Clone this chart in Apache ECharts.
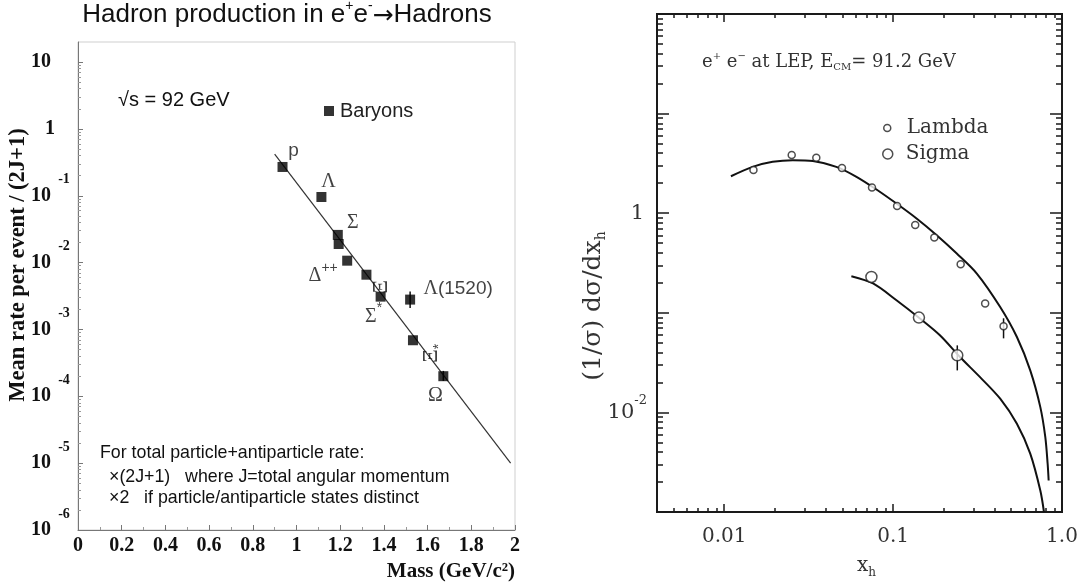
<!DOCTYPE html>
<html>
<head>
<meta charset="utf-8">
<title>Hadron production in e+e- to Hadrons</title>
<script src="https://cdn.jsdelivr.net/npm/echarts@6.0.0/dist/echarts.min.js"></script>
<style>
html,body{margin:0;padding:0;background:#fff;}
#chart{width:1081px;height:586px;}
</style>
</head>
<body>
<div id="chart"></div>
<script>
// ---------------- Left panel: baryon rates at sqrt(s) = 92 GeV ----------------
const baryonNames = ['p', 'Λ', 'Σ', 'Σ', 'Δ++', 'Ξ', 'Σ*', 'Λ(1520)', 'Ξ*', 'Ω'];
const baryonMass  = [0.936, 1.114, 1.189, 1.193, 1.232, 1.320, 1.385, 1.520, 1.533, 1.672];
const baryonRate  = [0.27, 0.096, 0.026, 0.019, 0.0107, 0.0066, 0.0031, 0.0028, 0.00069, 0.00020];
const baryonErrMass = [1.520, 1.672];
const baryonErrLow  = [0.0021, 0.00017];
const baryonErrHigh = [0.0037, 0.00024];
const fitMass = [0.90, 1.98];
const fitRate = [0.42, 1.0e-5];
const rateTickValues = [1e-6, 1e-5, 1e-4, 1e-3, 1e-2, 1e-1, 1, 10];

// ---------------- Right panel: Lambda / Sigma spectra at LEP ----------------
const lambdaX = [0.0149, 0.0251, 0.0351, 0.0498, 0.0750, 0.1056, 0.1352, 0.1754, 0.2512, 0.3508, 0.4508];
const lambdaY = [2.71, 3.83, 3.60, 2.85, 1.81, 1.18, 0.763, 0.570, 0.307, 0.1237, 0.0731];
const sigmaX  = [0.0744, 0.1422, 0.2399];
const sigmaY  = [0.229, 0.0895, 0.0374];
const lambdaFitX = [0.01096, 0.01472, 0.01936, 0.02547, 0.0335, 0.0461, 0.0607, 0.0797, 0.1047, 0.1377,
                    0.1812, 0.2382, 0.3131, 0.4306, 0.5408, 0.6486, 0.7441, 0.7965, 0.8222, 0.8337];
const lambdaFitY = [2.35, 2.92, 3.28, 3.41, 3.35, 2.92, 2.32, 1.73, 1.25, 0.885,
                    0.601, 0.394, 0.248, 0.1143, 0.0571, 0.0264, 0.0113, 0.00565, 0.00305, 0.00207];
const sigmaFitX = [0.0566, 0.0761, 0.1047, 0.1442, 0.1893, 0.2488, 0.3272, 0.4306, 0.5408, 0.6486, 0.7441, 0.782];
const sigmaFitY = [0.233, 0.197, 0.1336, 0.0875, 0.0594, 0.0360, 0.0226, 0.01374, 0.00769, 0.00385, 0.00164, 0.0010];
const errX    = [0.4508, 0.2399];
const errLow  = [0.0554, 0.0264];
const errHigh = [0.0881, 0.0471];
const xhTickLabels = [0.01, 0.1, 1];
const xhMajorTicks = [0.01, 0.1, 1];
const xsecTickLabels = [0.01, 1];
const xsecMajorTicks = [0.001, 0.01, 0.1, 1, 10, 100];

// ---------------- helpers ----------------
function logMinorTicks(lo, hi, eMin, eMax) {
  const out = [];
  for (let e = eMin; e < eMax; e++) {
    for (let k = 2; k <= 9; k++) {
      const v = +(k * Math.pow(10, e)).toPrecision(3);
      if (v > lo && v < hi) out.push(v);
    }
  }
  return out;
}
const rateMinorTicks = logMinorTicks(1e-6, 20, -6, 2);
const xhMinorTicks = logMinorTicks(0.004, 1, -3, 0);
const xsecMinorTicks = logMinorTicks(0.001, 100, -3, 2);

const SERIF = '"Liberation Serif","Times New Roman",serif';
const RSERIF = '"DejaVu Serif","Liberation Serif",serif';
const SANS = '"Liberation Sans",Arial,Helvetica,sans-serif';
const INK = '#111';
const RINK = '#333';

// label styling (offsets in px relative to the marker), kept apart from data
const labelOffsets = [[11, -16], [7, -15], [15, -12], null, [-24, 15], [-12, 15], [-7, 20], [48, -11], [-13, 19], [-8, 20]];
const labelRotate  = [0, 0, 0, 0, 0, 90, 0, 0, 90, 0];

function fmtName(n) {
  if (n === 'p') return '{n|p}';
  if (n === 'Δ++') return '{g|Δ}{s|++}';
  if (n === 'Σ*') return '{g|Σ}{s|*}';
  if (n === 'Ξ*') return '{x|Ξ}{d|*}';
  if (n === 'Ξ') return '{x|Ξ}';
  if (n === 'Λ(1520)') return '{g|Λ}{n|(1520)}';
  return '{g|' + n + '}';
}
const nameRich = {
  n: {fontFamily: SANS, fontSize: 19, color: INK, verticalAlign: 'middle'},
  g: {fontFamily: SERIF, fontSize: 20, color: INK, verticalAlign: 'middle'},
  x: {fontFamily: SERIF, fontSize: 21, color: INK, verticalAlign: 'middle'},
  s: {fontFamily: SANS, fontSize: 14, color: INK, verticalAlign: 'middle', padding: [0, 0, 16, 0]},
  d: {fontFamily: SANS, fontSize: 14, color: INK, verticalAlign: 'middle', padding: [14, 0, 0, 0]}
};

const baryonData = baryonMass.map((m, i) => {
  const item = {value: [m, baryonRate[i]], name: baryonNames[i]};
  if (labelOffsets[i]) {
    item.label = {
      show: true, position: 'inside', offset: labelOffsets[i], rotate: labelRotate[i],
      formatter: fmtName(baryonNames[i]), rich: nameRich
    };
  } else {
    item.label = {show: false};
  }
  return item;
});

function zip(a, b) { return a.map((v, i) => [v, b[i]]); }

function errorBarSeries(xIdx, yIdx, xs, lo, hi, w) {
  return {
    type: 'custom', xAxisIndex: xIdx, yAxisIndex: yIdx, z: 3, silent: true,
    data: xs.map((x, i) => [x, lo[i], hi[i]]),
    encode: {x: 0, y: [1, 2]},
    renderItem: function (params, api) {
      const a = api.coord([api.value(0), api.value(1)]);
      const b = api.coord([api.value(0), api.value(2)]);
      return {type: 'line', shape: {x1: a[0], y1: a[1], x2: b[0], y2: b[1]},
              style: {stroke: '#111', lineWidth: w}};
    }
  };
}

// ---------------- axes ----------------
const leftLabelRich = {
  b: {fontFamily: SERIF, fontWeight: 'bold', fontSize: 20, color: INK, verticalAlign: 'middle', lineHeight: 20},
  e: {fontFamily: SERIF, fontWeight: 'bold', fontSize: 14, color: INK, verticalAlign: 'top',
      width: 16, align: 'left', padding: [0, 0, 32, 5]},
  o: {fontFamily: SERIF, fontSize: 14, verticalAlign: 'top', width: 12, padding: [0, 0, 32, 5]}
};

function rightX(position, ticks, len, withLabels) {
  const ax = {
    type: 'log', logBase: 10, gridIndex: 1, position: position, min: 0.004, max: 1,
    axisLine: {show: false}, splitLine: {show: false},
    axisTick: {show: true, inside: true, length: len, customValues: ticks, lineStyle: {color: '#1a1a1a', width: 1.5}},
    axisLabel: {show: false}
  };
  if (withLabels) {
    ax.axisLabel = {
      show: true, customValues: xhTickLabels, margin: 15,
      fontFamily: RSERIF, fontSize: 20, color: RINK,
      formatter: v => (v >= 1 ? '1.0' : String(+v.toPrecision(3)))
    };
    ax.name = '{x|x}{h|h}';
    ax.nameLocation = 'middle';
    ax.nameGap = 41;
    ax.nameMoveOverlap = false;
    ax.nameTextStyle = {
      padding: [0, 0, 0, 14],
      rich: {
        x: {fontFamily: RSERIF, fontSize: 20, color: RINK, verticalAlign: 'middle'},
        h: {fontFamily: RSERIF, fontSize: 12, color: RINK, verticalAlign: 'middle', padding: [14, 0, 0, 0]}
      }
    };
  }
  return ax;
}

function rightY(position, ticks, len, withLabels) {
  const ax = {
    type: 'log', logBase: 10, gridIndex: 1, position: position, min: 0.001, max: 100,
    axisLine: {show: false}, splitLine: {show: false},
    axisTick: {show: true, inside: true, length: len, customValues: ticks, lineStyle: {color: '#1a1a1a', width: 1.5}},
    axisLabel: {show: false}
  };
  if (withLabels) {
    ax.axisLabel = {
      show: true, customValues: xsecTickLabels, margin: 10,
      formatter: v => {
        const e = Math.round(Math.log10(v));
        return e === 0 ? '{b|1}{o| }' : '{b|10}{e|' + e + '}';
      },
      rich: {
        b: {fontFamily: RSERIF, fontSize: 21, color: RINK, verticalAlign: 'middle', lineHeight: 21},
        e: {fontFamily: RSERIF, fontSize: 13, color: RINK, verticalAlign: 'top', padding: [0, 0, 24, 0]},
        o: {fontFamily: RSERIF, fontSize: 13, verticalAlign: 'top', width: 3}
      }
    };
    ax.name = '{a|(1/σ) dσ/dx}{h|h}';
    ax.nameLocation = 'middle';
    ax.nameRotate = 90;
    ax.nameGap = 49;
    ax.nameMoveOverlap = false;
    ax.nameTextStyle = {
      padding: [0, 86, 0, 0],
      rich: {
        a: {fontFamily: RSERIF, fontSize: 25, color: RINK, verticalAlign: 'middle'},
        h: {fontFamily: RSERIF, fontSize: 14, color: RINK, verticalAlign: 'middle', padding: [15, 0, 0, 0]}
      }
    };
  }
  return ax;
}

const option = {
  animation: false,
  backgroundColor: '#fff',
  grid: [
    {left: 78, top: 42, width: 437, height: 488, show: true, borderColor: '#cfcfcf', borderWidth: 1,
     containLabel: false, outerBoundsMode: 'none'},
    {left: 657, top: 14, width: 405, height: 498, show: true, borderColor: '#1a1a1a', borderWidth: 2,
     containLabel: false, outerBoundsMode: 'none'}
  ],
  xAxis: [
    {
      type: 'value', gridIndex: 0, position: 'bottom', min: 0, max: 2, interval: 0.2,
      axisLine: {show: true, lineStyle: {color: '#777', width: 1}},
      axisTick: {show: true, inside: true, length: 5, lineStyle: {color: '#777'}},
      minorTick: {show: true, splitNumber: 2, length: 3, lineStyle: {color: '#999'}},
      splitLine: {show: false},
      axisLabel: {margin: 6, fontFamily: SERIF, fontWeight: 'bold', fontSize: 20, color: INK},
      name: 'Mass (GeV/c²)', nameLocation: 'end', nameGap: 0, nameMoveOverlap: false,
      nameTextStyle: {fontFamily: SERIF, fontWeight: 'bold', fontSize: 21, color: INK,
                      align: 'right', verticalAlign: 'top', padding: [31, 0, 0, 0]}
    },
    rightX('bottom', xhMajorTicks, 8, true),
    rightX('bottom', xhMinorTicks, 4, false),
    rightX('top', xhMajorTicks, 8, false),
    rightX('top', xhMinorTicks, 4, false)
  ],
  yAxis: [
    {
      type: 'log', logBase: 10, gridIndex: 0, position: 'left', min: 1e-6, max: 20,
      axisLine: {show: true, lineStyle: {color: '#777', width: 1}},
      axisTick: {show: true, inside: true, length: 5, customValues: rateTickValues, lineStyle: {color: '#777'}},
      splitLine: {show: false},
      axisLabel: {
        customValues: rateTickValues, margin: 6,
        formatter: v => {
          const e = Math.round(Math.log10(v));
          if (e === 1) return '{b|10}{e| }';
          if (e === 0) return '{b|1}{o| }';
          return '{b|10}{e|' + e + '}';
        },
        rich: leftLabelRich
      },
      name: 'Mean rate per event / (2J+1)', nameLocation: 'middle', nameRotate: 90, nameGap: 48,
      nameMoveOverlap: false,
      nameTextStyle: {fontFamily: SERIF, fontWeight: 'bold', fontSize: 22.5, color: INK, padding: [0, 0, 0, 42]}
    },
    {
      type: 'log', logBase: 10, gridIndex: 0, position: 'left', min: 1e-6, max: 20,
      axisLine: {show: false}, splitLine: {show: false}, axisLabel: {show: false},
      axisTick: {show: true, inside: true, length: 3, customValues: rateMinorTicks, lineStyle: {color: '#999'}}
    },
    rightY('left', xsecMajorTicks, 12, true),
    rightY('left', xsecMinorTicks, 6, false),
    rightY('right', xsecMajorTicks, 12, false),
    rightY('right', xsecMinorTicks, 6, false)
  ],
  legend: [
    {
      data: [{name: 'Baryons', icon: 'rect'}], left: 324, top: 101, padding: 0,
      itemWidth: 10, itemHeight: 10, selectedMode: false,
      textStyle: {fontFamily: SANS, fontSize: 20, color: '#222', padding: [0, 0, 0, 1]}
    },
    {
      data: [{name: 'Lambda', icon: 'circle', itemStyle: {color: '#fff', borderColor: '#222', borderWidth: 1.5}}],
      left: 883, top: 118, padding: 0, itemWidth: 7, itemHeight: 7, selectedMode: false,
      textStyle: {fontFamily: RSERIF, fontSize: 20, color: RINK, padding: [0, 0, 0, 11]}
    },
    {
      data: [{name: 'Sigma', icon: 'circle', itemStyle: {color: '#fff', borderColor: '#222', borderWidth: 1.5}}],
      left: 882, top: 144, padding: 0, itemWidth: 10, itemHeight: 10, selectedMode: false,
      textStyle: {fontFamily: RSERIF, fontSize: 20, color: RINK, padding: [0, 0, 0, 8]}
    }
  ],
  graphic: [
    {
      type: 'text', x: 287, y: 15, silent: true,
      style: {
        text: '{t|Hadron production in e}{s|+}{t|e}{s|-}{a|→}{t|Hadrons}',
        align: 'center', verticalAlign: 'middle',
        rich: {
          t: {fontFamily: SANS, fontSize: 26, fill: '#111', verticalAlign: 'middle'},
          a: {fontFamily: '"DejaVu Sans",sans-serif', fontSize: 25, fill: '#111', verticalAlign: 'middle', padding: [2, 0, 0, 0]},
          s: {fontFamily: SANS, fontSize: 14, fill: '#111', verticalAlign: 'middle', padding: [0, 0, 18, 0]}
        }
      }
    },
    {
      type: 'text', x: 118, y: 100, silent: true,
      style: {text: '√s = 92 GeV', fontFamily: SANS, fontSize: 20, fill: '#111', align: 'left', verticalAlign: 'middle'}
    },
    {
      type: 'text', x: 100, y: 453, silent: true,
      style: {text: 'For total particle+antiparticle rate:', fontFamily: SANS, fontSize: 17.8, fill: '#111', align: 'left', verticalAlign: 'middle'}
    },
    {
      type: 'text', x: 109, y: 477, silent: true,
      style: {text: '×(2J+1)   where J=total angular momentum', fontFamily: SANS, fontSize: 17.8, fill: '#111', align: 'left', verticalAlign: 'middle'}
    },
    {
      type: 'text', x: 109, y: 498, silent: true,
      style: {text: '×2   if particle/antiparticle states distinct', fontFamily: SANS, fontSize: 17.8, fill: '#111', align: 'left', verticalAlign: 'middle'}
    },
    {
      type: 'text', x: 702, y: 62, silent: true,
      style: {
        text: '{t|e}{s|+}{t| e}{s|−}{t| at LEP, E}{b|CM}{t|= 91.2 GeV}',
        align: 'left', verticalAlign: 'middle',
        rich: {
          t: {fontFamily: RSERIF, fontSize: 18, fill: RINK, verticalAlign: 'middle'},
          s: {fontFamily: RSERIF, fontSize: 10, fill: RINK, verticalAlign: 'middle', padding: [0, 0, 12, 0]},
          b: {fontFamily: RSERIF, fontSize: 10, fill: RINK, verticalAlign: 'middle', padding: [10, 0, 0, 0]}
        }
      }
    }
  ],
  series: [
    {
      name: 'fit', type: 'line', xAxisIndex: 0, yAxisIndex: 0, data: zip(fitMass, fitRate),
      symbol: 'none', silent: true, z: 2, lineStyle: {color: '#333', width: 1.2}
    },
    errorBarSeries(0, 0, baryonErrMass, baryonErrLow, baryonErrHigh, 1.5),
    {
      name: 'Baryons', type: 'scatter', xAxisIndex: 0, yAxisIndex: 0, data: baryonData,
      symbol: 'rect', symbolSize: 10, z: 4, itemStyle: {color: '#000'}
    },
    {
      name: 'Lambda fit', type: 'line', xAxisIndex: 1, yAxisIndex: 2, data: zip(lambdaFitX, lambdaFitY),
      symbol: 'none', smooth: 0.3, silent: true, z: 2, lineStyle: {color: '#111', width: 2}
    },
    {
      name: 'Sigma fit', type: 'line', xAxisIndex: 1, yAxisIndex: 2, data: zip(sigmaFitX, sigmaFitY),
      symbol: 'none', smooth: 0.3, silent: true, z: 2, lineStyle: {color: '#111', width: 2}
    },
    errorBarSeries(1, 2, errX, errLow, errHigh, 1.5),
    {
      name: 'Lambda', type: 'scatter', xAxisIndex: 1, yAxisIndex: 2, data: zip(lambdaX, lambdaY),
      symbol: 'circle', symbolSize: 7, z: 4,
      itemStyle: {color: '#fff', borderColor: '#222', borderWidth: 1.5}
    },
    {
      name: 'Sigma', type: 'scatter', xAxisIndex: 1, yAxisIndex: 2, data: zip(sigmaX, sigmaY),
      symbol: 'circle', symbolSize: 11, z: 4,
      itemStyle: {color: '#fff', borderColor: '#222', borderWidth: 1.5}
    }
  ]
};

const chart = echarts.init(document.getElementById('chart'), null, {renderer: 'canvas'});
chart.setOption(option);
</script>
</body>
</html>
